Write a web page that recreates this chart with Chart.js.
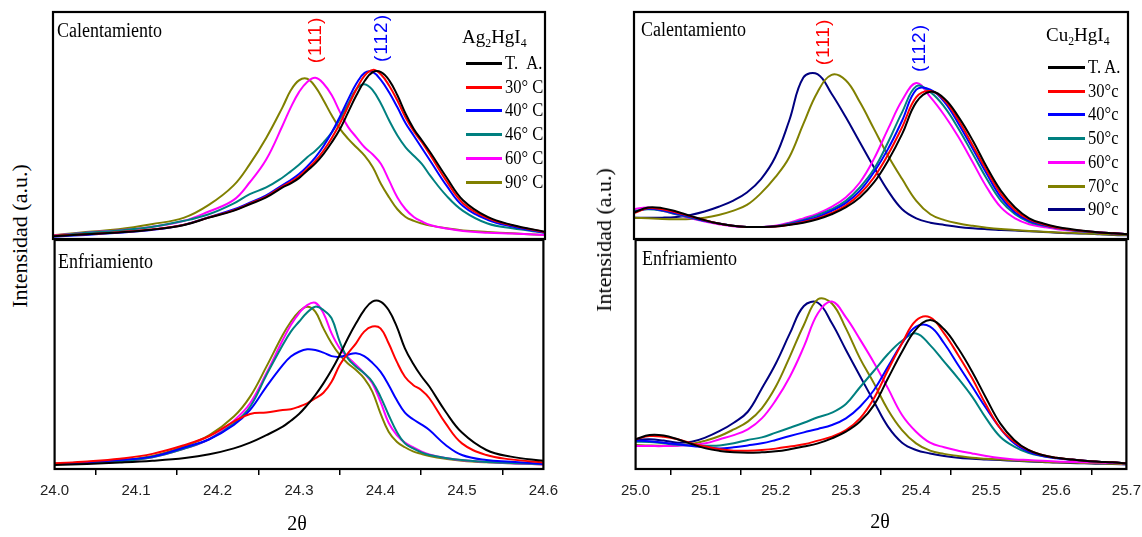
<!DOCTYPE html>
<html><head><meta charset="utf-8">
<script src="https://cdn.jsdelivr.net/npm/chart.js@4.4.1/dist/chart.umd.min.js"></script>
<style>
html,body{margin:0;padding:0;background:#fff;}
body{width:1142px;height:537px;position:relative;overflow:hidden;font-family:"Liberation Serif","Times New Roman",serif;color:#000;}
.box{position:absolute;}
.lt{position:absolute;white-space:nowrap;transform-origin:0 50%;transform:translateY(-50%) scaleX(0.9);line-height:1;}
.ct{position:absolute;white-space:nowrap;transform-origin:50% 50%;transform:translate(-50%,-50%);line-height:1;}
.rot{position:absolute;white-space:nowrap;transform-origin:50% 50%;transform:translate(-50%,-50%) rotate(-90deg);line-height:1;}
.lg{position:absolute;height:3px;}
sub{font-size:62%;vertical-align:-0.35em;line-height:0;}
</style></head><body>
<div class="box" id="bTL" style="left:33px;top:10px;width:532px;height:231px;"><canvas id="cTL"></canvas></div>
<div class="box" id="bBL" style="left:33px;top:238px;width:532px;height:276px;"><canvas id="cBL"></canvas></div>
<div class="box" id="bTR" style="left:614px;top:10px;width:534px;height:231px;"><canvas id="cTR"></canvas></div>
<div class="box" id="bBR" style="left:614px;top:238px;width:534px;height:276px;"><canvas id="cBR"></canvas></div>
<div id="ann"></div>
<script>
// ---------- x positions (2θ) ----------
const xAg = [24.00,24.04,24.08,24.12,24.16,24.19,24.22,24.24,24.26,24.28,24.29,24.30,24.31,24.32,24.33,24.34,24.35,24.36,24.37,24.38,24.39,24.40,24.41,24.42,24.43,24.44,24.45,24.46,24.48,24.50,24.53,24.56,24.60];
const xCu = [25.00,25.02,25.04,25.06,25.08,25.10,25.12,25.14,25.16,25.18,25.20,25.22,25.24,25.26,25.28,25.30,25.32,25.34,25.36,25.38,25.40,25.42,25.44,25.46,25.48,25.50,25.52,25.54,25.56,25.58,25.60,25.62,25.64,25.66,25.68,25.70];

// ---------- Ag2HgI4, Calentamiento ----------
const agHeatTA = [1.2,2.1,2.9,4.1,6.2,9.4,12.4,15.3,18.3,22.7,24.5,26.8,30.1,33.3,37.5,42.6,48.5,55.9,63.3,69.6,73.5,73.5,69.9,63.3,55.2,48.5,43.4,38.2,27.1,17.1,9.7,6.2,3.2];
const agHeat30 = [1.4,2.1,3.0,4.2,6.3,9.5,12.6,15.6,18.7,23.2,25.2,27.6,30.9,34.4,39.0,44.5,51.0,58.5,66.0,72.0,74.5,72.5,67.5,61.0,53.5,47.5,42.5,37.0,25.5,15.8,9.2,6.0,3.0];
const agHeat40 = [1.0,1.8,2.8,4.0,6.3,9.6,13.0,16.0,19.2,23.8,26.0,28.6,32.0,36.0,41.0,47.0,54.0,61.5,68.5,73.2,73.5,70.0,64.5,58.0,51.0,45.5,40.0,34.5,23.5,14.5,8.5,5.5,2.8];
const agHeat46 = [1.3,2.7,3.8,5.3,8.0,10.9,15.6,19.8,22.7,27.1,29.8,32.7,36.0,38.9,42.6,47.0,53.0,59.6,66.0,68.2,65.5,59.6,52.2,45.6,40.4,36.7,33.0,27.9,19.0,12.4,6.8,4.7,2.8];
const agHeat60 = [1.5,2.8,3.8,5.3,8.0,12.1,17.1,25.0,35.0,50.0,58.0,64.7,69.2,71.0,68.4,63.3,55.9,49.3,44.8,40.4,37.2,33.0,25.7,18.3,13.1,9.7,7.7,6.2,4.6,3.5,2.8,2.4,1.8];
const agHeat90 = [1.6,3.1,4.3,6.5,9.4,15.0,23.5,33.0,44.5,58.1,65.5,69.9,70.6,67.0,61.0,54.4,48.5,44.1,40.4,36.7,31.6,24.2,18.3,13.1,9.7,8.0,6.8,5.9,4.7,3.8,3.1,2.5,1.8];

// ---------- Ag2HgI4, Enfriamiento ----------
const agCoolTA = [1.7,2.2,2.8,3.6,4.8,6.4,9.0,11.5,14.8,18.5,21.1,24.0,27.9,32.3,37.4,43.2,49.8,57.1,63.6,69.4,73.1,73.1,69.4,62.2,52.7,46.1,40.6,36.0,25.0,15.9,8.3,5.4,3.6];
const agCool30 = [2.5,3.3,4.5,6.6,10.5,14.4,20.7,24.0,24.7,25.8,26.1,27.2,28.7,30.9,33.3,38.1,45.4,50.5,54.9,60.0,62.2,61.4,54.9,46.9,40.3,36.7,34.5,30.9,19.9,11.2,6.1,4.2,2.8];
const agCool40 = [2.2,2.9,3.9,5.4,9.5,13.0,19.2,25.8,36.0,45.4,49.1,51.2,52.3,52.0,50.8,49.3,49.0,49.9,50.5,49.3,46.4,42.5,36.7,30.1,24.6,21.7,19.5,17.0,10.5,6.1,3.9,3.2,2.2];
const agCool46 = [2.2,2.6,3.3,5.1,9.0,13.0,19.9,27.2,41.0,54.1,60.0,64.3,68.3,70.9,69.4,65.8,55.6,48.3,44.7,41.8,38.1,31.6,23.6,16.3,11.2,9.0,7.3,6.1,4.8,3.9,3.1,2.6,2.2];
const agCool60 = [2.2,2.6,3.3,5.1,9.0,13.0,21.1,28.7,41.8,56.3,62.9,68.0,71.6,72.6,68.0,59.2,52.7,48.8,45.4,41.8,37.4,29.4,20.2,14.8,11.5,9.5,7.7,6.4,4.8,3.8,3.1,2.5,2.0];
const agCool90 = [2.3,2.9,3.8,5.7,10.0,14.8,22.9,31.6,44.7,58.5,64.3,68.7,70.9,68.7,61.4,54.9,49.8,46.1,43.2,39.6,33.8,24.3,16.3,11.9,9.5,7.7,6.6,5.7,4.5,3.6,2.9,2.5,2.0];

// ---------- Cu2HgI4, Calentamiento ----------
const cuHeatTA = [11.7,13.9,13.6,12.1,10.2,8.3,6.8,5.8,5.3,5.3,5.5,6.2,7.2,8.7,10.9,13.9,18.3,24.9,34.5,46.3,60.3,64.9,61.8,53.7,43.4,31.6,21.2,13.9,9.1,6.8,5.3,4.3,3.5,2.9,2.5,2.1];
const cuHeat30 = [11.4,13.6,13.1,11.7,10.0,8.3,6.8,5.8,5.3,5.3,5.5,6.3,7.5,9.1,11.5,14.7,19.8,27.1,37.2,49.3,62.5,65.2,61.1,52.2,41.2,30.1,19.8,12.7,8.6,6.5,5.0,4.1,3.4,2.9,2.5,2.1];
const cuHeat40 = [11.9,13.3,12.7,11.2,9.7,8.0,6.8,5.8,5.3,5.3,5.6,6.5,8.0,9.7,12.4,15.8,21.2,29.4,39.7,52.2,65.8,65.8,60.3,50.7,39.7,28.6,18.3,11.7,8.0,6.2,4.9,4.0,3.4,2.9,2.5,2.1];
const cuHeat50 = [12.4,13.1,12.4,10.9,9.4,8.0,6.8,5.8,5.3,5.3,5.6,6.8,8.4,10.5,13.1,16.8,22.7,30.8,42.6,55.9,67.3,64.7,58.1,48.5,37.5,26.4,16.8,10.9,7.5,5.9,4.7,3.8,3.2,2.9,2.5,2.1];
const cuHeat60 = [13.1,13.9,12.4,10.9,9.1,7.7,6.5,5.6,5.3,5.3,5.8,7.2,9.1,11.2,14.2,18.3,24.9,35.3,48.5,61.1,68.7,62.5,54.4,44.8,33.8,22.7,13.9,9.1,6.5,5.3,4.3,3.7,3.2,2.9,2.5,2.1];
const cuHeat70 = [9.4,9.1,8.8,8.7,8.8,9.4,10.6,12.4,15.0,20.2,27.1,36.0,50.7,64.7,72.3,69.9,60.3,48.5,36.7,26.4,16.8,10.9,8.3,6.8,5.8,5.0,4.4,4.0,3.5,3.2,2.9,2.7,2.4,2.2,1.9,1.8];
const cuHeat90 = [9.4,9.4,9.4,9.7,10.6,12.1,14.2,16.8,20.5,26.4,36.0,52.2,71.1,72.6,64.0,53.7,42.6,31.6,21.2,13.1,9.1,7.2,6.2,5.3,4.7,4.3,4.0,3.7,3.4,3.1,2.8,2.5,2.4,2.1,1.8,1.6];

// ---------- Cu2HgI4, Enfriamiento ----------
const cuCoolTA = [13.0,14.8,14.6,13.0,10.9,9.0,7.9,7.3,7.1,7.3,7.7,8.6,9.8,11.2,13.4,16.3,20.7,27.9,39.6,51.2,61.0,65.1,61.0,52.7,42.5,30.9,19.9,12.7,8.3,6.1,4.9,4.2,3.6,3.2,2.9,2.5];
const cuCool30 = [13.0,14.4,14.1,13.0,11.2,9.8,8.6,8.0,8.0,8.3,8.9,9.8,10.8,12.4,14.1,17.0,22.1,30.9,43.2,54.9,64.8,66.2,59.2,49.8,39.6,27.9,17.8,11.9,8.3,6.1,4.9,4.2,3.6,3.2,2.9,2.5];
const cuCool40 = [12.4,12.1,11.5,10.8,10.0,9.5,9.0,9.5,10.3,11.2,12.7,14.4,16.0,17.5,19.2,22.1,27.2,34.5,44.7,54.9,62.2,62.2,54.9,45.4,36.0,26.5,17.8,11.2,7.6,5.7,4.7,4.1,3.6,3.2,2.9,2.5];
const cuCool50 = [11.9,11.8,11.2,10.6,10.3,10.2,10.3,11.2,12.7,13.8,15.9,18.0,20.2,22.6,24.6,28.4,35.7,42.9,50.2,56.0,59.2,54.1,46.9,39.6,31.6,22.1,14.1,9.8,7.1,5.7,4.8,4.1,3.6,3.2,2.9,2.5];
const cuCool60 = [10.0,10.0,10.0,10.2,10.5,11.2,13.0,14.8,17.3,22.1,30.1,40.3,53.4,68.0,73.1,66.2,56.6,46.4,35.2,23.6,16.3,11.5,9.5,8.0,6.8,5.7,4.8,4.2,3.9,3.6,3.3,3.1,2.9,2.8,2.6,2.5];
const cuCool70 = [10.5,10.3,10.2,10.3,10.9,12.4,14.4,17.3,20.7,26.5,36.0,49.1,62.9,74.1,72.3,61.4,48.3,37.4,25.8,17.0,11.2,8.0,6.6,5.7,4.9,4.5,4.1,3.8,3.5,3.2,2.9,2.8,2.6,2.5,2.3,2.2];
const cuCool90 = [12.7,13.0,12.4,11.5,11.9,13.8,16.6,20.2,25.0,35.2,46.1,59.2,71.2,72.6,63.6,52.0,40.6,29.4,18.5,11.5,8.3,6.8,5.7,4.9,4.5,4.2,3.9,3.6,3.3,3.1,2.8,2.6,2.5,2.3,2.2,2.0];

// ---------- series names, colours, ticks ----------
const agNames = ['T.\u00a0\u00a0A.', '30° C', '40° C', '46° C', '60° C', '90° C'];
const cuNames = ['T. A.', '30°c', '40°c', '50°c', '60°c', '70°c', '90°c'];
const agColors = ['#000000', '#ff0000', '#0000ff', '#008080', '#ff00ff', '#808000'];
const cuColors = ['#000000', '#ff0000', '#0000ff', '#008080', '#ff00ff', '#808000', '#000080'];
const agMajorTicks = [24.0, 24.1, 24.2, 24.3, 24.4, 24.5, 24.6];
const agMinorTicks = [24.05, 24.15, 24.25, 24.35, 24.45, 24.55];
const cuMajorTicks = [25.0, 25.1, 25.2, 25.3, 25.4, 25.5, 25.6, 25.7];
const cuMinorTicks = [25.05, 25.15, 25.25, 25.35, 25.45, 25.55, 25.65];

const frame = {
  id: 'frame',
  afterDraw(c) {
    const {ctx, chartArea: a} = c;
    ctx.save();
    ctx.strokeStyle = '#000';
    ctx.lineWidth = 2.2;
    ctx.strokeRect(a.left, a.top, a.right - a.left, a.bottom - a.top);
    ctx.restore();
  }
};

function isIn(list, v) { return list.some(t => Math.abs(t - v) < 1e-6); }

function makeChart(id, xs, series, names, colors, majors, minors, showX) {
  const allTicks = majors.concat(minors).sort((a, b) => a - b);
  const xScale = {
    type: 'linear',
    min: majors[0],
    max: majors[majors.length - 1],
    display: showX,
    afterBuildTicks: s => { s.ticks = allTicks.map(v => ({value: v})); },
    border: {display: false},
    grid: {
      drawOnChartArea: false,
      drawTicks: true,
      tickLength: 6,
      lineWidth: 1.5,
      color: ctx => (ctx.tick && isIn(minors, ctx.tick.value)) ? '#000' : 'rgba(0,0,0,0)'
    },
    ticks: {
      autoSkip: false,
      maxRotation: 0,
      padding: 7,
      color: '#222',
      font: {family: '"Liberation Sans", Arial, sans-serif', size: 15},
      callback: v => isIn(majors, v) ? Number(v).toFixed(1) : ''
    }
  };
  if (showX) xScale.afterFit = s => { s.height = 45; };
  return new Chart(document.getElementById(id), {
    type: 'line',
    data: {
      datasets: series.map((ys, i) => ({
        label: names[i],
        data: xs.map((x, j) => ({x: x, y: ys[j]})),
        borderColor: colors[i],
        backgroundColor: colors[i],
        borderWidth: 2,
        pointRadius: 0,
        tension: 0.4,
        fill: false
      }))
    },
    options: {
      responsive: true,
      maintainAspectRatio: false,
      animation: false,
      devicePixelRatio: 1,
      layout: {padding: {left: 20, right: 20, top: 2, bottom: showX ? 0 : 2}},
      plugins: {legend: {display: false}, tooltip: {enabled: false}},
      scales: {
        x: xScale,
        y: {display: false, min: 0, max: 100}
      }
    },
    plugins: [frame]
  });
}

makeChart('cTL', xAg, [agHeatTA, agHeat30, agHeat40, agHeat46, agHeat60, agHeat90], agNames, agColors, agMajorTicks, agMinorTicks, false);
makeChart('cBL', xAg, [agCoolTA, agCool30, agCool40, agCool46, agCool60, agCool90], agNames, agColors, agMajorTicks, agMinorTicks, true);
makeChart('cTR', xCu, [cuHeatTA, cuHeat30, cuHeat40, cuHeat50, cuHeat60, cuHeat70, cuHeat90], cuNames, cuColors, cuMajorTicks, cuMinorTicks, false);
makeChart('cBR', xCu, [cuCoolTA, cuCool30, cuCool40, cuCool50, cuCool60, cuCool70, cuCool90], cuNames, cuColors, cuMajorTicks, cuMinorTicks, true);

// ---------- annotations & legends (HTML text) ----------
const ann = document.getElementById('ann');
function addText(cls, html, x, y, style) {
  const d = document.createElement('div');
  d.className = cls;
  d.innerHTML = html;
  d.style.left = x + 'px';
  d.style.top = y + 'px';
  if (style) d.style.cssText += style;
  ann.appendChild(d);
}
const serif = 'font-family:"Liberation Serif","Times New Roman",serif;';
const sans = 'font-family:"Liberation Sans",Arial,sans-serif;';
addText('lt', 'Calentamiento', 57, 30, serif + 'font-size:20px;');
addText('lt', 'Enfriamiento', 58, 261, serif + 'font-size:20px;');
addText('lt', 'Calentamiento', 641, 29, serif + 'font-size:20px;');
addText('lt', 'Enfriamiento', 642, 258, serif + 'font-size:20px;');
addText('rot', 'Intensidad (a.u.)', 20, 236, serif + 'font-size:22px;');
addText('rot', 'Intensidad (a.u.)', 604, 240, serif + 'font-size:22px;');
addText('ct', '2θ', 297, 523, serif + 'font-size:20px;');
addText('ct', '2θ', 880, 521, serif + 'font-size:20px;');
addText('rot', '(111)', 314, 40, sans + 'font-size:19px;color:#ff0000;letter-spacing:1px;');
addText('rot', '(112)', 380, 38, sans + 'font-size:19px;color:#0000ff;letter-spacing:1px;');
addText('rot', '(111)', 822, 42, sans + 'font-size:19px;color:#ff0000;letter-spacing:1px;');
addText('rot', '(112)', 918, 48, sans + 'font-size:19px;color:#0000ff;letter-spacing:1px;');
addText('lt', 'Ag<sub>2</sub>HgI<sub>4</sub>', 462, 36, serif + 'font-size:19px;transform:translateY(-50%);');
addText('lt', 'Cu<sub>2</sub>HgI<sub>4</sub>', 1046, 34, serif + 'font-size:19px;transform:translateY(-50%);');

const agLegendY = [63, 87, 110, 134, 158, 182];
agNames.forEach((n, i) => {
  const l = document.createElement('div');
  l.className = 'lg';
  l.style.cssText += 'left:466px;width:36px;top:' + (agLegendY[i] - 1.5) + 'px;background:' + agColors[i] + ';';
  ann.appendChild(l);
  addText('lt', n, 505, agLegendY[i], serif + 'font-size:18px;transform:translateY(-50%) scaleX(0.92);');
});
const cuLegendY = [67, 91, 114, 138, 162, 186, 209];
cuNames.forEach((n, i) => {
  const l = document.createElement('div');
  l.className = 'lg';
  l.style.cssText += 'left:1048px;width:37px;top:' + (cuLegendY[i] - 1.5) + 'px;background:' + cuColors[i] + ';';
  ann.appendChild(l);
  addText('lt', n, 1088, cuLegendY[i], serif + 'font-size:18px;transform:translateY(-50%) scaleX(0.92);');
});
</script>
</body></html>
